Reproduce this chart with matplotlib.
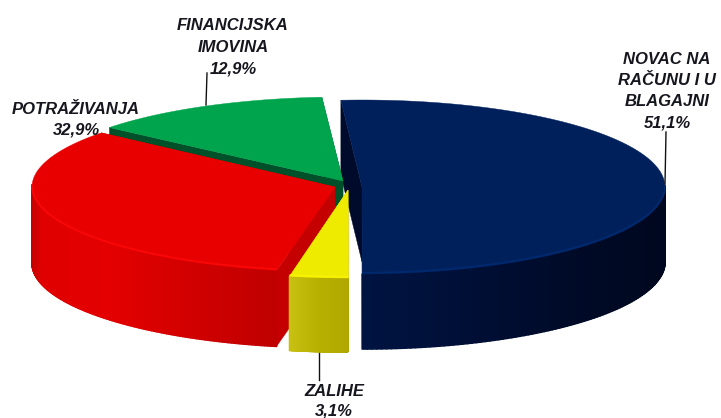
import numpy as np
import matplotlib
matplotlib.use("Agg")
import matplotlib.pyplot as plt
from matplotlib.patches import Polygon
from matplotlib.collections import PolyCollection
from matplotlib.colors import to_rgb

plt.rcParams['font.family'] = ['Liberation Sans', 'DejaVu Sans']

# data
categories = ["NOVAC NA\nRAČUNU I U\nBLAGAJNI", "ZALIHE", "POTRAŽIVANJA", "FINANCIJSKA\nIMOVINA"]
values = [51.1, 3.1, 32.9, 12.9]
value_labels = ["51,1%", "3,1%", "32,9%", "12,9%"]

# styling / layout
start_angle = -4.0
radius_x = 303
apex = [(362, 187), (348, 190), (335, 187), (343, 181)]
radius_y = [87, 88, 85, 84]
depth = [75, 74, 76, 72]
top_col = ["#00205c", "#eeea00", "#e80000", "#00a44c"]
wall_col = ["#000a2a", "#c4bc0a", "#c40000", "#00502a"]
rim_light = ["#002a70", "#f8f400", "#fa0808", "#00a44c"]
side_stops = [
    [(0, "#001442"), (0.4, "#000e34"), (0.75, "#000a26"), (1, "#00081f")],
    [(0, "#b0a800"), (0.1, "#b8b000"), (0.19, "#c8c010"), (1, "#c8c010")],
    [(0, "#c00000"), (0.2, "#c00000"), (0.45, "#d00000"), (0.75, "#e40000"), (0.97, "#e00000"), (1, "#c80000")],
    [(0, "#00502a"), (1, "#00502a")],
]
label_pos = [(667, 59, 21.5), (334, 391, 20), (76, 109, 21), (233, 25, 22)]
leaders = [((666, 132), (665, 184)), ((319, 353), (319, 380)), None, ((207, 73), (206, 105))]
draw_order = [0, 3, 2, 1]

fig = plt.figure(figsize=(7.21, 4.18), dpi=100)
ax = fig.add_axes([0, 0, 1, 1])
ax.set_xlim(0, 721)
ax.set_ylim(418, 0)
ax.axis("off")


def colour_at(stops, u):
    xs = [s[0] for s in stops]
    cs = np.array([to_rgb(s[1]) for s in stops])
    return [float(np.interp(u, xs, cs[:, i])) for i in range(3)]


sweeps = np.array(values) / sum(values) * 360
starts = start_angle + np.concatenate([[0], np.cumsum(sweeps)[:-1]])

for i in draw_order:
    s, w = starts[i], sweeps[i]
    cx, cy = apex[i]
    ry, d = radius_y[i], depth[i]
    t = np.radians(np.linspace(s, s + w, 200))
    xa = cx + radius_x * np.sin(t)
    ya = cy - ry * np.cos(t)
    # radial walls
    for xe, ye in ((xa[0], ya[0]), (xa[-1], ya[-1])):
        ax.add_patch(Polygon([(cx, cy), (xe, ye), (xe, ye + d), (cx, cy + d)],
                             closed=True, fc=wall_col[i], ec=wall_col[i], lw=0.3))
    # outer rim
    quads, cols = [], []
    front = np.cos(t) <= 0.02
    for k in range(len(t) - 1):
        if front[k]:
            quads.append([(xa[k], ya[k]), (xa[k + 1], ya[k + 1]),
                          (xa[k + 1], ya[k + 1] + d), (xa[k], ya[k] + d)])
            cols.append(colour_at(side_stops[i], abs(np.sin(t[k]))))
    if quads:
        ax.add_collection(PolyCollection(quads, facecolors=cols, edgecolors=cols, linewidths=1.2))
    # top face
    ax.add_patch(Polygon(np.column_stack([np.r_[cx, xa], np.r_[cy, ya]]),
                         closed=True, fc=top_col[i], ec=top_col[i], lw=0.3))
    # soft highlight along the front edge of the top face
    if quads:
        ax.plot(xa[front], ya[front] - 1.2, color=rim_light[i], lw=1.3, solid_capstyle="butt")

for seg in leaders:
    if seg:
        ax.plot([seg[0][0], seg[1][0]], [seg[0][1], seg[1][1]], color="#111111", lw=1.0)

for name, val, (x, y, gap) in zip(categories, value_labels, label_pos):
    for j, line in enumerate(name.split("\n") + [val]):
        ax.text(x, y + j * gap, line, ha="center", va="center", fontsize=12,
                fontweight="bold", fontstyle="italic", color="#16161f")

fig.savefig("out.png", dpi=100, facecolor="white")
